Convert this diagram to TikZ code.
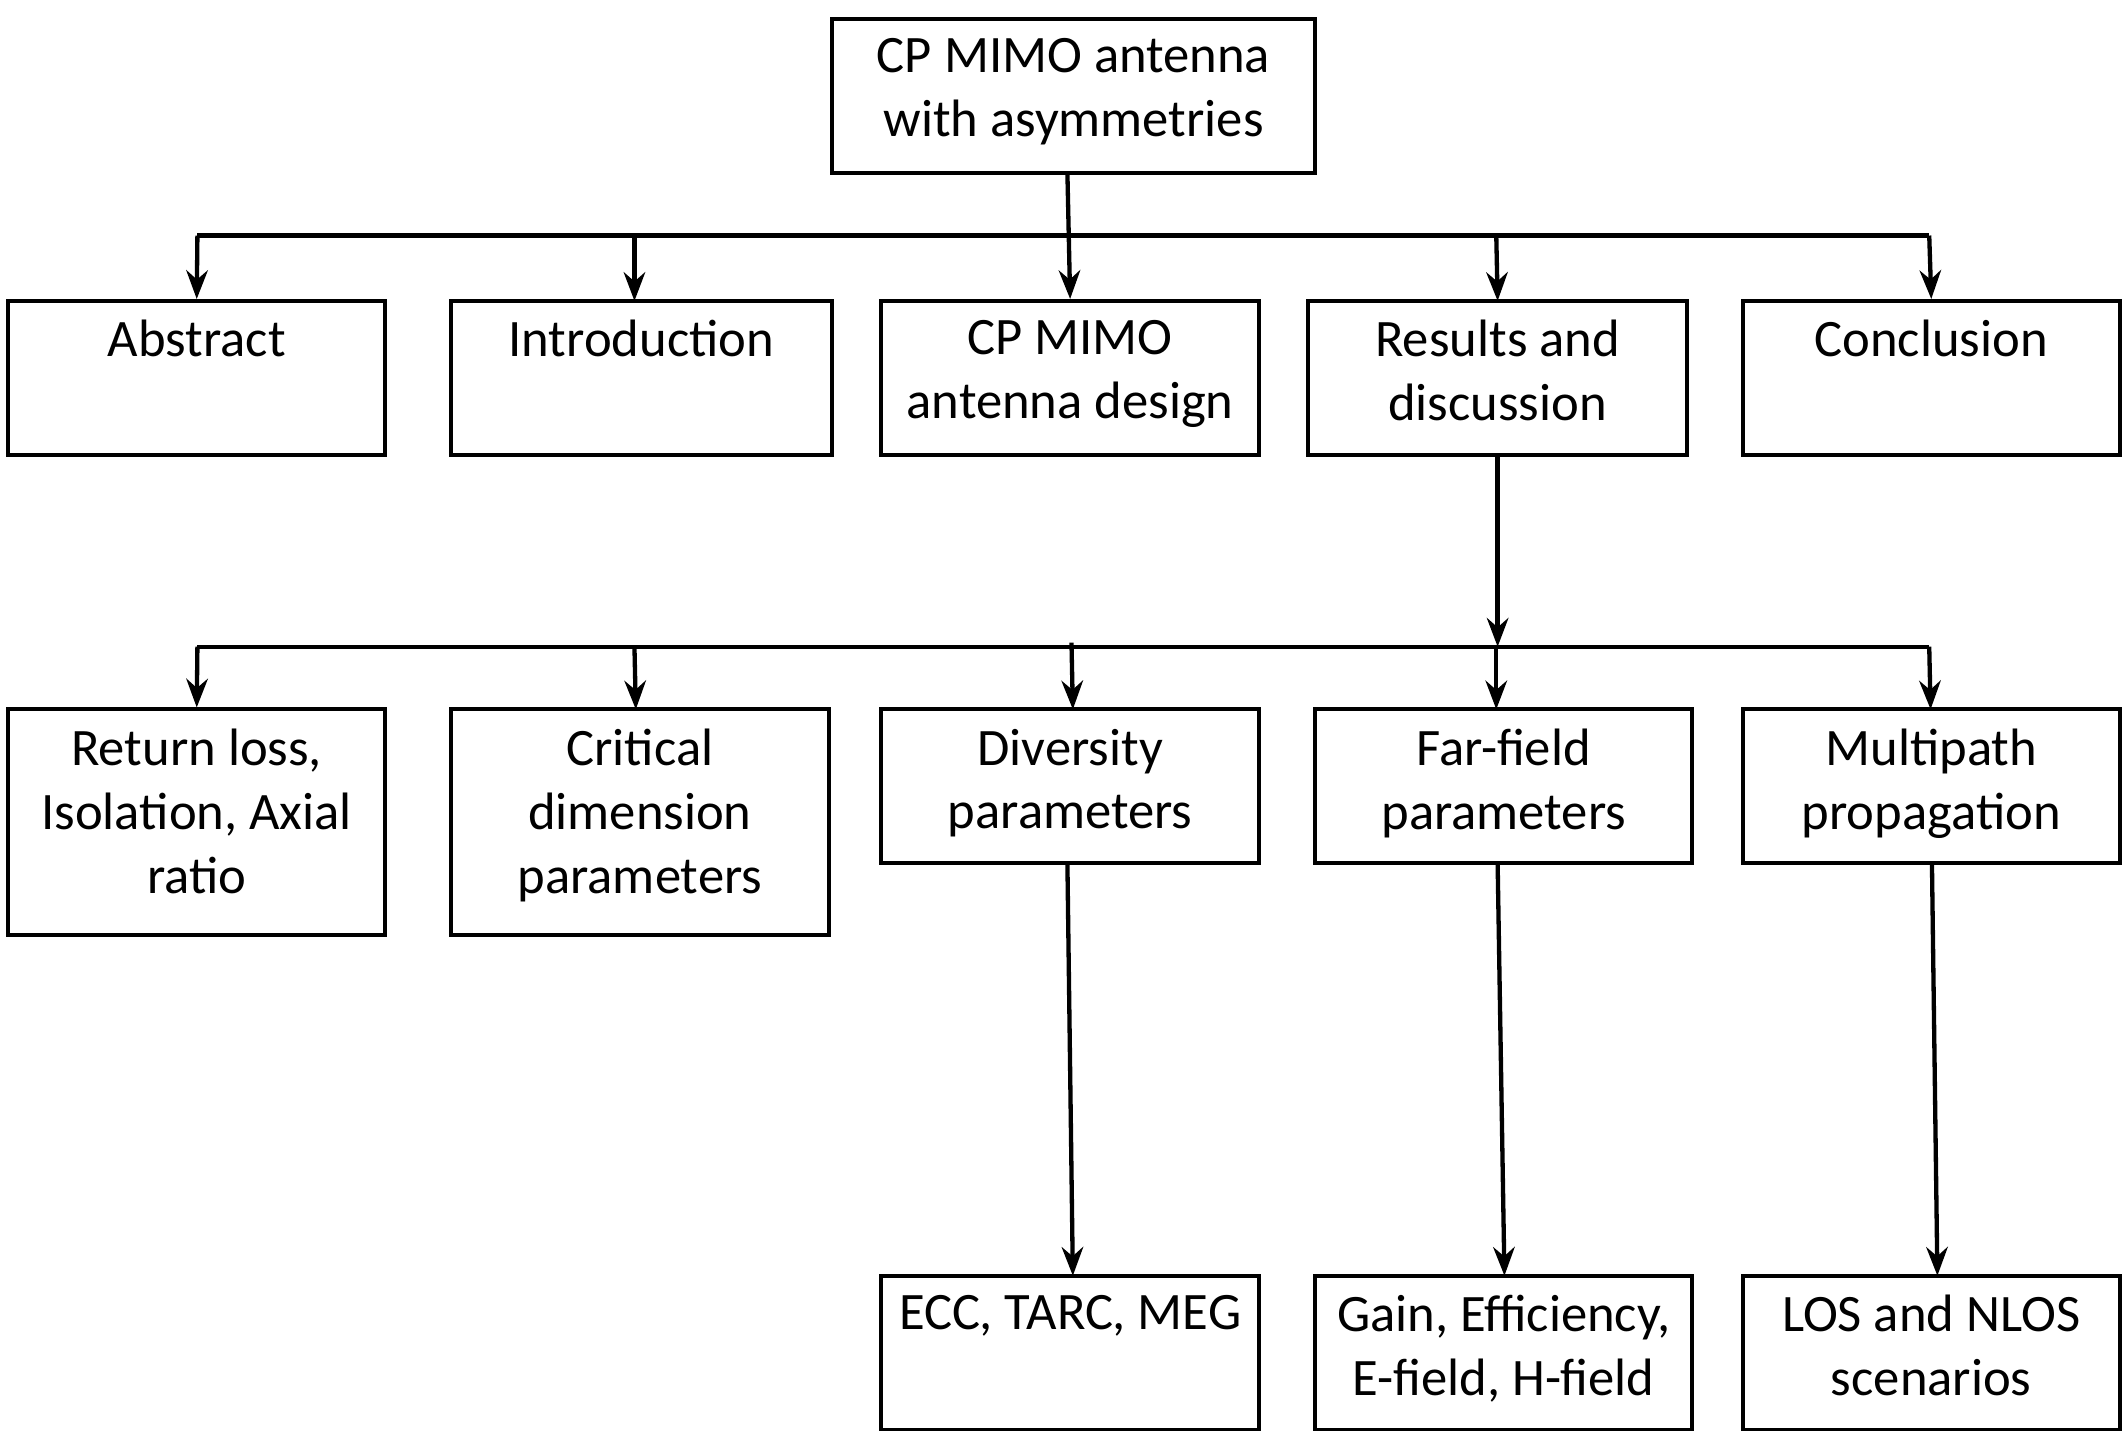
\documentclass[tikz,border=0pt]{standalone}
\usepackage{fontspec}
\setmainfont{Carlito}
\usetikzlibrary{arrows.meta}
\begin{document}
\begin{tikzpicture}[x=0.02cm,y=-0.02cm,
  box/.style={draw,line width=1.6pt,inner sep=0},
  lab/.style={anchor=north,inner sep=0,align=center,font=\fontsize{22}{26.7}\selectfont},
  ln/.style={line width=1.8pt},
  ar/.style={ln,-{Stealth[length=12pt,width=9pt]}}]
\useasboundingbox (0,0) rectangle (1563,1054);
\newcommand\mybox[6]{% name x1 y1 x2 y2 text
  \node[box,minimum width={(#4-#2)*0.02cm},minimum height={(#5-#3)*0.02cm}] (#1) at ({(#2+#4)/2},{(#3+#5)/2}) {};
  \node[lab] (#1t) at ({(#2+#4)/2},{#3+14}) {#6};}
\mybox{top}{611}{14}{966}{127}{CP MIMO antenna\\with asymmetries}
\mybox{abs}{6}{221}{283}{334}{Abstract}
\mybox{intro}{331}{221}{611}{334}{Introduction}
\mybox{des}{647}{221}{925}{334}{CP MIMO\\antenna design}
\mybox{res}{961}{221}{1239}{334}{Results and\\discussion}
\mybox{con}{1280}{221}{1557}{334}{Conclusion}
\mybox{rl}{6}{521}{283}{687}{Return loss,\\Isolation, Axial\\ratio}
\mybox{cri}{331}{521}{609}{687}{Critical\\dimension\\parameters}
\mybox{div}{647}{521}{925}{634}{Diversity\\parameters}
\mybox{far}{966}{521}{1243}{634}{Far-field\\parameters}
\mybox{mul}{1280}{521}{1557}{634}{Multipath\\propagation}
\mybox{ecc}{647}{937}{925}{1050}{ECC, TARC, MEG}
\mybox{gain}{966}{937}{1243}{1050}{Gain, Efficiency,\\E-field, H-field}
\mybox{los}{1280}{937}{1557}{1050}{LOS and NLOS\\scenarios}
\coordinate (b1l) at (145,173); \coordinate (b1r) at (1417,173);
\coordinate (b2l) at (145,475); \coordinate (b2r) at (1417,475);
\draw[ln] (b1l) -- (b1r);
\draw[ln] (b2l) -- (b2r);
\draw[ar] (784,127) -- (des.north);
\draw[ar] (b1l) -- (abs.north);
\draw[ar] (466,173) -- (466,221);
\draw[ar] (1099,173) -- (1100,221);
\draw[ar] (b1r) -- (con.north);
\draw[ar] (res.south) -- (1100,475);
\draw[ar] (b2l) -- (rl.north);
\draw[ar] (466,475) -- (467,521);
\draw[ar] (787,472) -- (788,521);
\draw[ar] (1099,475) -- (1099,521);
\draw[ar] (b2r) -- (1418,521);
\draw[ar] (784,634) -- (788,937);
\draw[ar] (1100,634) -- (1105,937);
\draw[ar] (1419,634) -- (1423,937);
\end{tikzpicture}
\end{document}
